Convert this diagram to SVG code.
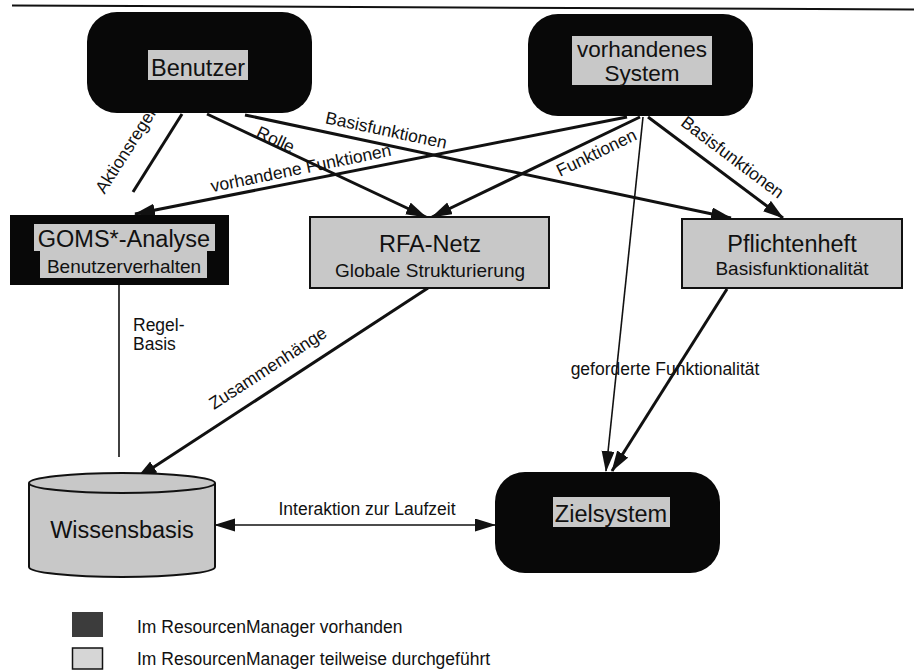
<svg xmlns="http://www.w3.org/2000/svg" width="914" height="670" viewBox="0 0 914 670">
  <style>
    text { font-family: "Liberation Sans", Arial, Helvetica, sans-serif; fill: #111; }
    .title { font-size: 23.5px; text-anchor: middle; }
    .sub { font-size: 19px; text-anchor: middle; }
    .lbl { font-size: 17.5px; text-anchor: middle; }
    .legend { font-size: 17.5px; }
    .black { fill: #080808; }
    .tag { fill: #c8c8c8; }
    .box { fill: #c8c8c8; stroke: #111; stroke-width: 2; }
    .thick { stroke: #111; stroke-width: 3; fill: none; }
    .thin { stroke: #111; stroke-width: 1.6; fill: none; }
    .arr { marker-end: url(#head); }
  </style>
  <defs>
    <marker id="head" markerUnits="userSpaceOnUse" markerWidth="22" markerHeight="14" refX="20" refY="6.5" orient="auto-start-reverse" viewBox="0 0 22 14">
      <path d="M0,0 L21,6.5 L0,13 Z" fill="#111"/>
    </marker>
  </defs>

  <rect width="914" height="670" fill="#fff"/>
  <!-- page rule -->
  <line x1="12" y1="5.5" x2="914" y2="9.5" stroke="#111" stroke-width="2"/>

  <g id="connectors">
    <line class="thick" x1="182" y1="114" x2="133" y2="192"/>
    <line class="thick arr" x1="207" y1="114" x2="426" y2="217"/>
    <line class="thick arr" x1="245" y1="115" x2="731" y2="218"/>
    <line class="thick arr" x1="627" y1="117" x2="135" y2="214"/>
    <line class="thick arr" x1="640" y1="117" x2="432" y2="217"/>
    <line class="thin arr" x1="643" y1="117" x2="606" y2="471"/>
    <line class="thick arr" x1="648" y1="117" x2="783" y2="218"/>
    <line class="thin" x1="119" y1="285" x2="119" y2="457"/>
    <line class="thick arr" x1="428" y1="288" x2="137" y2="478"/>
    <line class="thick arr" x1="727" y1="289" x2="612" y2="471"/>
    <line class="thin" x1="215" y1="525" x2="495" y2="525" marker-start="url(#head)" marker-end="url(#head)"/>

    <text class="lbl" transform="translate(133,150) rotate(-57.5)">Aktionsregeln</text>
    <text class="lbl" transform="translate(273,145) rotate(25)">Rolle</text>
    <text class="lbl" transform="translate(385,136) rotate(12)">Basisfunktionen</text>
    <text class="lbl" transform="translate(302,174) rotate(-11.5)">vorhandene Funktionen</text>
    <text class="lbl" transform="translate(599,158) rotate(-26)">Funktionen</text>
    <text class="lbl" transform="translate(729,162) rotate(37)">Basisfunktionen</text>
    <text class="lbl" transform="translate(271,373) rotate(-33)">Zusammenhänge</text>
    <text class="lbl" x="133" y="331" style="text-anchor:start">Regel-</text>
    <text class="lbl" x="133" y="350" style="text-anchor:start">Basis</text>
    <text class="lbl" x="665" y="375">geforderte Funktionalität</text>
    <text class="lbl" x="367" y="515">Interaktion zur Laufzeit</text>
  </g>

  <g id="benutzer">
    <rect class="black" x="87" y="12" width="225" height="101" rx="30"/>
    <rect class="tag" x="148" y="50" width="100" height="30"/>
    <text class="title" x="198" y="76">Benutzer</text>
  </g>

  <g id="vorhandenes-system">
    <rect class="black" x="528" y="14" width="225" height="102" rx="30"/>
    <rect class="tag" x="572" y="36" width="140" height="49"/>
    <text class="title" x="642" y="57" style="font-size:22.5px">vorhandenes</text>
    <text class="title" x="642" y="81" style="font-size:22.5px">System</text>
  </g>

  <g id="goms">
    <rect class="black" x="10" y="215" width="219" height="70"/>
    <rect class="tag" x="34" y="224" width="181" height="27"/>
    <rect class="tag" x="40" y="251" width="167" height="27"/>
    <text class="title" x="124" y="247">GOMS*-Analyse</text>
    <text class="sub" x="124" y="273">Benutzerverhalten</text>
  </g>

  <g id="rfa-netz">
    <rect class="box" x="310" y="217" width="239" height="71"/>
    <text class="title" x="430" y="252">RFA-Netz</text>
    <text class="sub" x="430" y="277">Globale Strukturierung</text>
  </g>

  <g id="pflichtenheft">
    <rect class="box" x="682" y="219" width="220" height="69"/>
    <text class="title" x="792" y="252">Pflichtenheft</text>
    <text class="sub" x="792" y="275">Basisfunktionalität</text>
  </g>

  <g id="wissensbasis">
    <path class="box" d="M29,483 L29,567 A93,10 0 0 0 215,567 L215,483"/>
    <ellipse class="box" cx="122" cy="483" rx="93" ry="10"/>
    <text class="title" x="122" y="538">Wissensbasis</text>
  </g>

  <g id="zielsystem">
    <rect class="black" x="495" y="472" width="225" height="101" rx="30"/>
    <rect class="tag" x="553" y="497" width="117" height="30"/>
    <text class="title" x="611" y="522">Zielsystem</text>
  </g>

  <g id="legend">
    <rect x="72" y="612" width="31" height="25" fill="#3c3c3c"/>
    <text class="legend" x="137" y="633">Im ResourcenManager vorhanden</text>
    <rect x="72.5" y="648" width="30" height="21" fill="#d6d6d6" stroke="#111" stroke-width="1.5"/>
    <text class="legend" x="137" y="665">Im ResourcenManager teilweise durchgeführt</text>
  </g>
</svg>
